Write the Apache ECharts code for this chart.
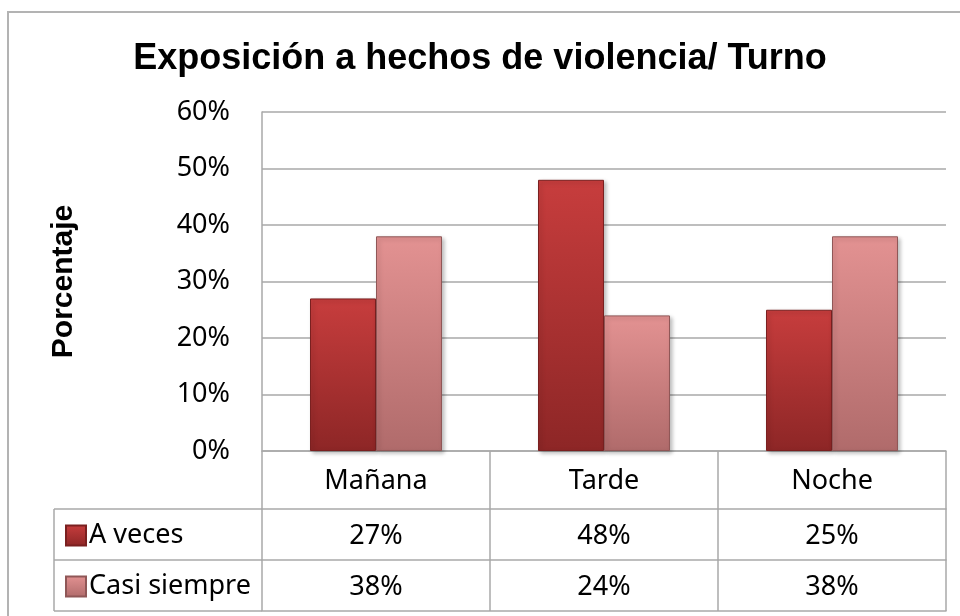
<!DOCTYPE html>
<html>
<head>
<meta charset="utf-8">
<script src="https://cdn.jsdelivr.net/npm/echarts@6/dist/echarts.min.js"></script>
<style>
  html, body { margin: 0; padding: 0; background: #fff; }
  #chart { width: 960px; height: 616px; }
</style>
</head>
<body>
<div id="chart"></div>
<script>
// datos
let turnos = ['Mañana', 'Tarde', 'Noche']
let series = ['A veces', 'Casi siempre']
let aVeces = [27, 48, 25]
let casiSiempre = [38, 24, 38]
let yTicks = [0, 10, 20, 30, 40, 50, 60]

let font = 'Noto Sans'
let gris = '#a9a9a9'

let myChart = echarts.init(document.getElementById('chart'))

// colores de las barras (degradado)
let rojo = new echarts.graphic.LinearGradient(0, 0, 0, 1, [
  { offset: 0, color: '#c73d3d' },
  { offset: 1, color: '#8d2626' }
])
let rosa = new echarts.graphic.LinearGradient(0, 0, 0, 1, [
  { offset: 0, color: '#e39292' },
  { offset: 1, color: '#b06b6b' }
])

// ejes x extra para las filas de la tabla
function filaEje(offset, valores, lh) {
  return {
    type: 'category',
    data: turnos,
    position: 'bottom',
    offset: offset,
    axisLine: { show: true, lineStyle: { color: gris, width: 1.5 } },
    axisTick: { show: false },
    axisLabel: {
      show: valores != null,
      margin: 2,
      lineHeight: lh,
      fontFamily: font,
      fontSize: 27,
      color: '#000',
      formatter: function (v, i) { return valores ? valores[i] + '%' : '' }
    }
  }
}

// leyenda dentro de la tabla, una por fila
function fila(nombre, top) {
  return {
    orient: 'vertical',
    left: 60,
    top: top,
    itemWidth: 20,
    itemHeight: 20,
    icon: 'rect',
    textStyle: { fontFamily: font, fontSize: 27, color: '#000', padding: [0, 0, 0, -2] },
    data: [nombre]
  }
}

let option = {
  animation: false,
  title: {
    text: 'Exposición a hechos de violencia/ Turno',
    left: 'center',
    top: 36,
    textStyle: { fontFamily: 'Liberation Sans', fontWeight: 'bold', fontSize: 36, color: '#000' }
  },
  legend: [fila(series[0], 517), fila(series[1], 568)],
  grid: { left: 262, right: 14, top: 112, bottom: 165 },
  xAxis: [
    {
      type: 'category',
      data: turnos,
      position: 'bottom',
      axisLine: { show: true, lineStyle: { color: gris, width: 1.5 } },
      axisTick: { show: true, length: 160, lineStyle: { color: gris, width: 1.5 } },
      axisLabel: { margin: 1, lineHeight: 58, fontFamily: font, fontSize: 27, color: '#000' }
    },
    filaEje(58, aVeces, 51),
    filaEje(109, casiSiempre, 51),
    filaEje(160, null, 51)
  ],
  yAxis: {
    type: 'value',
    min: yTicks[0],
    max: yTicks[yTicks.length - 1],
    interval: 10,
    name: 'Porcentaje',
    nameLocation: 'middle',
    nameRotate: 90,
    nameGap: 183,
    nameTextStyle: { fontFamily: 'Liberation Sans', fontWeight: 'bold', fontSize: 30, color: '#000' },
    axisLine: { show: true, lineStyle: { color: gris, width: 1.5 } },
    axisTick: { show: false },
    splitLine: { lineStyle: { color: gris, width: 1.5 } },
    axisLabel: { margin: 32, fontFamily: font, fontSize: 27, color: '#000', formatter: '{value}%' }
  },
  series: [
    {
      name: series[0],
      type: 'bar',
      data: aVeces,
      barWidth: 66,
      barGap: '0%',
      itemStyle: {
        color: rojo,
        borderColor: '#7a2020',
        borderWidth: 1,
        shadowBlur: 4,
        shadowOffsetX: 2,
        shadowOffsetY: 2,
        shadowColor: 'rgba(0,0,0,0.25)'
      }
    },
    {
      name: series[1],
      type: 'bar',
      data: casiSiempre,
      barWidth: 66,
      itemStyle: {
        color: rosa,
        borderColor: '#8f5757',
        borderWidth: 1,
        shadowBlur: 4,
        shadowOffsetX: 2,
        shadowOffsetY: 2,
        shadowColor: 'rgba(0,0,0,0.25)'
      }
    }
  ],
  graphic: [
    // borde del gráfico
    { type: 'polyline', shape: { points: [[8, 640], [8, 12], [960, 12]] }, style: { stroke: '#b3b3b3', lineWidth: 2, fill: null } },
    // columna de la leyenda en la tabla
    { type: 'line', shape: { x1: 54, y1: 509, x2: 262, y2: 509 }, style: { stroke: gris, lineWidth: 1.5 } },
    { type: 'line', shape: { x1: 54, y1: 560, x2: 262, y2: 560 }, style: { stroke: gris, lineWidth: 1.5 } },
    { type: 'line', shape: { x1: 54, y1: 611, x2: 262, y2: 611 }, style: { stroke: gris, lineWidth: 1.5 } },
    { type: 'line', shape: { x1: 54, y1: 509, x2: 54, y2: 611 }, style: { stroke: gris, lineWidth: 1.5 } }
  ]
}

myChart.setOption(option)
</script>
</body>
</html>
